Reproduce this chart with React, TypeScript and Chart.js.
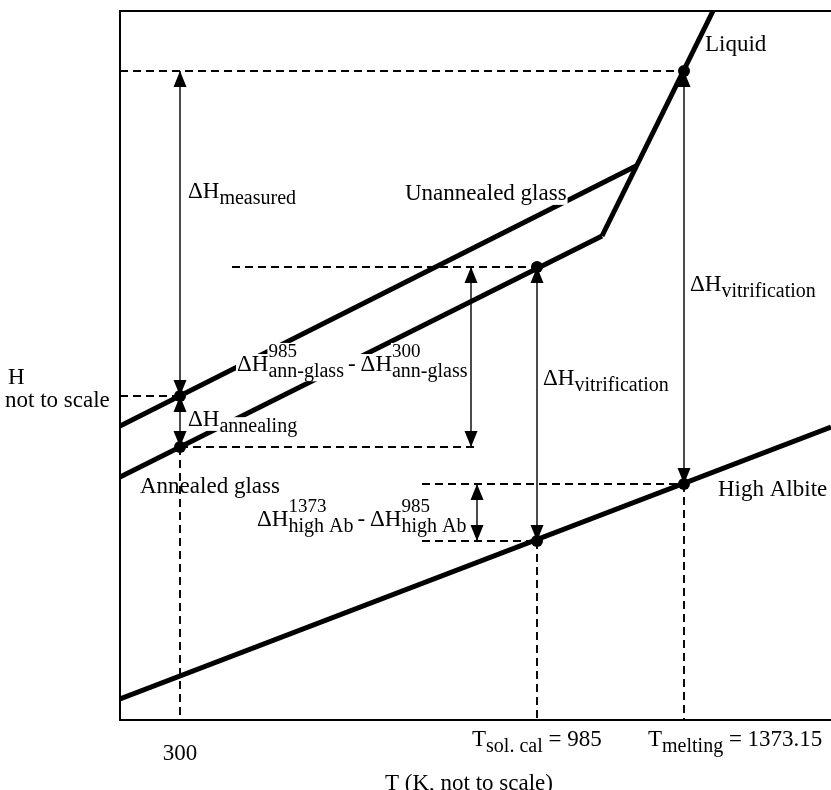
import { useEffect, useRef } from "react";
import { Chart, registerables } from "chart.js";

Chart.register(...registerables);

// ---- Axis extents (arbitrary units: neither axis is to scale) ----
const xRange = [0, 711];
const yRange = [0, 709];

// x positions of the marked temperatures 300, 985, 1373.15 K (not to scale)
const tempKeys = [60, 417, 564];
const tempTickLabels = ["300", "985", "1373.15"];

// ---- Enthalpy curves ----
const liquidX = [482, 593];
const liquidY = [484, 709];
const unannealedX = [0, 516];
const unannealedY = [294, 554];
const annealedX = [0, 482];
const annealedY = [243, 484];
const highAlbiteX = [0, 711];
const highAlbiteY = [21, 293];

// ---- Marked states (filled circles) ----
const markerX = [60, 60, 417, 417, 564, 564];
const markerY = [324, 273, 453, 179, 649, 236];

// ---- Dashed guide lines: from (x1, y1) to (x2, y2) ----
const guideX1 = [0, 112, 0, 60, 302, 302, 60, 417, 564];
const guideY1 = [649, 453, 324, 273, 236, 179, 273, 179, 236];
const guideX2 = [564, 417, 60, 358, 564, 417, 60, 417, 564];
const guideY2 = [649, 453, 324, 273, 236, 179, 0, 0, 0];

// ---- Double-headed arrows (enthalpy differences) ----
const arrowX = [60, 60, 351, 417, 564, 357];
const arrowTop = [649, 324, 453, 453, 649, 236];
const arrowBottom = [324, 273, 273, 179, 236, 179];

// ---- Text ----
type Seg = { t?: string; sup?: string; sub?: string; sp?: number };
type Label = { segs: Seg[]; x: number; y: number; align?: "left" | "center"; bg?: boolean };

const labels: Label[] = [
  { segs: [{ t: "ΔH" }, { sub: "measured" }], x: 68, y: 530 },
  { segs: [{ t: "Unannealed glass" }], x: 285, y: 528, bg: true },
  {
    segs: [
      { t: "ΔH" },
      { sup: "985", sub: "ann-glass" },
      { sp: 4 },
      { t: "-" },
      { sp: 5 },
      { t: "ΔH" },
      { sup: "300", sub: "ann-glass" },
    ],
    x: 117,
    y: 357,
    bg: true,
  },
  { segs: [{ t: "ΔH" }, { sub: "annealing" }], x: 68, y: 302, bg: true },
  { segs: [{ t: "ΔH" }, { sub: "vitrification" }], x: 423, y: 343 },
  { segs: [{ t: "ΔH" }, { sub: "vitrification" }], x: 570, y: 437 },
  { segs: [{ t: "Liquid" }], x: 585, y: 677 },
  { segs: [{ t: "Annealed glass" }], x: 20, y: 235 },
  {
    segs: [
      { t: "ΔH" },
      { sup: "1373", sub: "high Ab" },
      { sp: 4 },
      { t: "-" },
      { sp: 5 },
      { t: "ΔH" },
      { sup: "985", sub: "high Ab" },
    ],
    x: 137,
    y: 202,
  },
  { segs: [{ t: "High Albite" }], x: 598, y: 232 },
  { segs: [{ t: "H" }], x: -112, y: 344 },
  { segs: [{ t: "not to scale" }], x: -115, y: 321 },
  { segs: [{ t: tempTickLabels[0] }], x: tempKeys[0], y: -32, align: "center" },
  { segs: [{ t: "T" }, { sub: "sol. cal" }, { t: " = " + tempTickLabels[1] }], x: 352, y: -18 },
  { segs: [{ t: "T" }, { sub: "melting" }, { t: " = " + tempTickLabels[2] }], x: 528, y: -18 },
  { segs: [{ t: "T (K, not to scale)" }], x: 349, y: -62, align: "center" },
];

const FONT = '"Liberation Serif", "Times New Roman", Times, serif';
const MAIN = 23;
const SUP = 19;
const SUB = 20;
const SUP_OFF = 14;
const SUB_OFF = 6;

function pts(xs: number[], ys: number[]) {
  return xs.map((x, i) => ({ x, y: ys[i] }));
}

function segWidth(ctx: CanvasRenderingContext2D, s: Seg) {
  if (s.sp !== undefined) return s.sp;
  if (s.t !== undefined) {
    ctx.font = `${MAIN}px ${FONT}`;
    return ctx.measureText(s.t).width;
  }
  let w = 0;
  if (s.sup) {
    ctx.font = `${SUP}px ${FONT}`;
    w = Math.max(w, ctx.measureText(s.sup).width);
  }
  if (s.sub) {
    ctx.font = `${SUB}px ${FONT}`;
    w = Math.max(w, ctx.measureText(s.sub).width);
  }
  return w;
}

function drawLabel(ctx: CanvasRenderingContext2D, lab: Label, px: number, py: number) {
  const widths = lab.segs.map((s) => segWidth(ctx, s));
  const total = widths.reduce((a, b) => a + b, 0);
  const base = py + MAIN * 0.33;
  const x0 = lab.align === "center" ? px - total / 2 : px;
  ctx.textAlign = "left";
  ctx.textBaseline = "alphabetic";
  if (lab.bg) {
    ctx.fillStyle = "#ffffff";
    let x = x0;
    lab.segs.forEach((s, i) => {
      const w = widths[i];
      if (s.t !== undefined || s.sp !== undefined) {
        ctx.fillRect(x - 1, base - MAIN * 0.72, w + 2, MAIN * 0.95);
      } else {
        const top = s.sup ? base - SUP_OFF - SUP * 0.72 : base + SUB_OFF - SUB * 0.72;
        const bottom = s.sub ? base + SUB_OFF + SUB * 0.24 : base - SUP_OFF + 2;
        ctx.fillRect(x - 1, top, w + 2, bottom - top);
      }
      x += w;
    });
  }
  ctx.fillStyle = "#000000";
  let x = x0;
  lab.segs.forEach((s, i) => {
    if (s.sp !== undefined) {
      // spacer only
    } else if (s.t !== undefined) {
      ctx.font = `${MAIN}px ${FONT}`;
      ctx.fillText(s.t, x, base);
    } else {
      if (s.sup) {
        ctx.font = `${SUP}px ${FONT}`;
        ctx.fillText(s.sup, x, base - SUP_OFF);
      }
      if (s.sub) {
        ctx.font = `${SUB}px ${FONT}`;
        ctx.fillText(s.sub, x, base + SUB_OFF);
      }
    }
    x += widths[i];
  });
}

const framePlugin = {
  id: "frame",
  beforeDatasetsDraw(chart: any) {
    const { ctx, chartArea } = chart;
    ctx.save();
    ctx.strokeStyle = "#000";
    ctx.lineWidth = 2;
    ctx.beginPath();
    ctx.moveTo(chartArea.right, chartArea.top);
    ctx.lineTo(chartArea.left, chartArea.top);
    ctx.lineTo(chartArea.left, chartArea.bottom);
    ctx.lineTo(chartArea.right, chartArea.bottom);
    ctx.stroke();
    ctx.restore();
  },
};

const annotatePlugin = {
  id: "annotate",
  afterDatasetsDraw(chart: any) {
    const { ctx } = chart;
    const xs = chart.scales.x;
    const ys = chart.scales.y;
    ctx.save();
    labels.forEach((lab) => {
      drawLabel(ctx, lab, xs.getPixelForValue(lab.x), ys.getPixelForValue(lab.y));
    });
    // arrow heads
    const L = 16;
    const W = 6.5;
    ctx.fillStyle = "#000";
    arrowX.forEach((ax, i) => {
      const px = xs.getPixelForValue(ax);
      const pt = ys.getPixelForValue(arrowTop[i]);
      const pb = ys.getPixelForValue(arrowBottom[i]);
      ctx.beginPath();
      ctx.moveTo(px, pt);
      ctx.lineTo(px - W, pt + L);
      ctx.lineTo(px + W, pt + L);
      ctx.closePath();
      ctx.fill();
      ctx.beginPath();
      ctx.moveTo(px, pb);
      ctx.lineTo(px - W, pb - L);
      ctx.lineTo(px + W, pb - L);
      ctx.closePath();
      ctx.fill();
    });
    ctx.restore();
  },
};

export default function App() {
  const ref = useRef<HTMLCanvasElement | null>(null);

  useEffect(() => {
    if (!ref.current) return;
    const thick = (xs: number[], ys: number[]) => ({
      data: pts(xs, ys),
      borderColor: "#000",
      borderWidth: 5,
      pointRadius: 0,
      fill: false,
      order: 2,
    });
    const datasets: any[] = [
      {
        data: pts(markerX, markerY),
        showLine: false,
        pointRadius: 6,
        pointBackgroundColor: "#000",
        pointBorderColor: "#000",
        pointBorderWidth: 0,
        order: 0,
      },
      thick(liquidX, liquidY),
      thick(unannealedX, unannealedY),
      thick(annealedX, annealedY),
      thick(highAlbiteX, highAlbiteY),
    ];
    arrowX.forEach((ax, i) => {
      datasets.push({
        data: [
          { x: ax, y: arrowTop[i] },
          { x: ax, y: arrowBottom[i] },
        ],
        borderColor: "#000",
        borderWidth: 1.4,
        pointRadius: 0,
        order: 1,
      });
    });
    guideX1.forEach((gx, i) => {
      datasets.push({
        data: [
          { x: gx, y: guideY1[i] },
          { x: guideX2[i], y: guideY2[i] },
        ],
        borderColor: "#000",
        borderWidth: 1.9,
        borderDash: [8, 5],
        pointRadius: 0,
        order: 3,
      });
    });

    const chart = new Chart(ref.current, {
      type: "line",
      data: { datasets },
      options: {
        animation: false,
        responsive: false,
        events: [],
        layout: { autoPadding: false, padding: { left: 120, right: 0, top: 11, bottom: 70 } },
        scales: {
          x: { type: "linear", min: xRange[0], max: xRange[1], display: false },
          y: { type: "linear", min: yRange[0], max: yRange[1], display: false },
        },
        plugins: { legend: { display: false }, tooltip: { enabled: false } },
      },
      plugins: [framePlugin, annotatePlugin],
    });
    return () => chart.destroy();
  }, []);

  return (
    <div style={{ position: "absolute", left: 0, top: 0, width: 831, height: 790, background: "#fff" }}>
      <canvas ref={ref} width={831} height={790} />
    </div>
  );
}
